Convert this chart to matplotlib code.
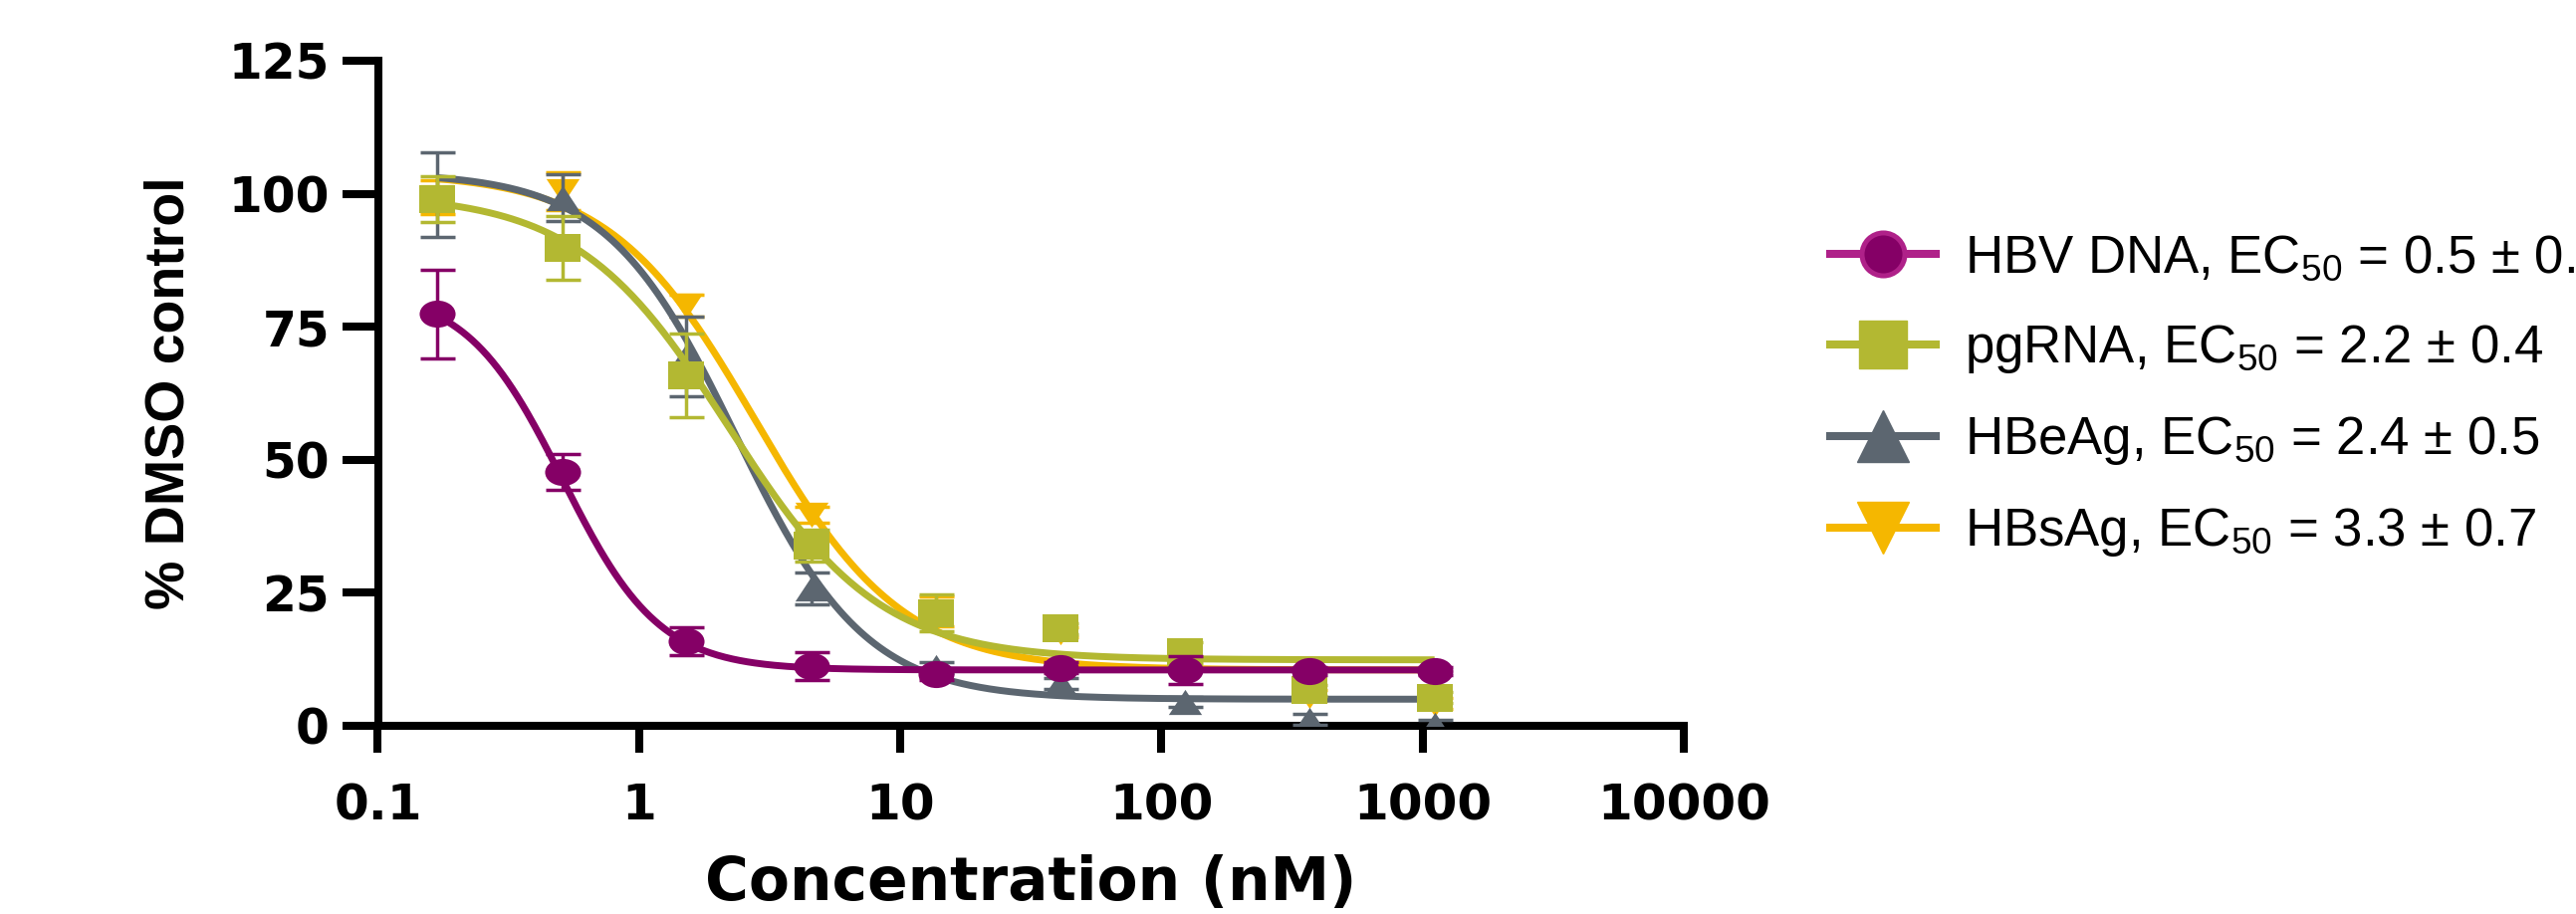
"""Dose-response curves for HBV markers (% of DMSO control vs concentration)."""

import numpy as np
import matplotlib
matplotlib.use("Agg")
from matplotlib import pyplot as plt
from matplotlib import font_manager
from matplotlib.lines import Line2D
from matplotlib.path import Path

# concentrations (nM), 3-fold dilution series
conc = [0.169, 0.508, 1.52, 4.57, 13.7, 41.2, 123, 370, 1111]

dna_mean = [77.4, 47.7, 15.9, 11.3, 9.7, 10.9, 10.5, 10.3, 10.3]
dna_sd = [8.3, 3.3, 2.6, 2.6, 1.0, 1.0, 2.6, 0.8, 0.8]
pgrna_mean = [99.0, 89.9, 65.9, 33.9, 21.2, 18.3, 13.8, 6.7, 5.3]
pgrna_sd = [4.3, 6.0, 7.9, 3.0, 3.5, 1.0, 2.0, 1.0, 1.0]
hbeag_mean = [99.8, 99.2, 69.5, 25.9, 11.0, 8.0, 4.5, 1.2, 0.2]
hbeag_sd = [7.9, 4.4, 7.5, 3.0, 1.0, 1.0, 1.0, 1.0, 1.0]
hbsag_mean = [99.4, 100.5, 79.0, 39.7, 21.5, 17.6, 12.0, 5.7, 4.2]
hbsag_sd = [3.2, 3.5, 2.0, 1.5, 2.8, 1.0, 1.0, 1.0, 1.0]

# four-parameter logistic fits: top, bottom, EC50, hill slope
dna_fit = [82.0, 10.5, 0.51, 2.35]
pgrna_fit = [100.0, 12.4, 2.2, 1.5]
hbeag_fit = [104.0, 5.0, 2.35, 1.75]
hbsag_fit = [104.0, 10.5, 2.8, 1.55]

labels = [
    "HBV DNA, EC$_{50}$ = 0.5 ± 0.1",
    "pgRNA, EC$_{50}$ = 2.2 ± 0.4",
    "HBeAg, EC$_{50}$ = 2.4 ± 0.5",
    "HBsAg, EC$_{50}$ = 3.3 ± 0.7",
]

x_ticks = [0.1, 1, 10, 100, 1000, 10000]
x_ticklabels = ["0.1", "1", "10", "100", "1000", "10000"]
y_ticks = [0, 25, 50, 75, 100, 125]

PURPLE = "#850066"
PURPLE_LIGHT = "#AF2189"
GREEN = "#B3B832"
GRAY = "#5C6670"
YELLOW = "#F5B700"

plt.rcParams["mathtext.fontset"] = "custom"
plt.rcParams["mathtext.rm"] = "Liberation Sans"
plt.rcParams["mathtext.it"] = "Liberation Sans:italic"
plt.rcParams["mathtext.bf"] = "Liberation Sans:bold"


def logistic(x, top, bottom, ec50, hill):
    return bottom + (top - bottom) / (1 + (x / ec50) ** hill)


# markers in the original are a bit wider than tall
circ = Path.unit_circle()
ellipse = Path(circ.vertices * [1.33, 1.0], circ.codes)
rect = Path([(-1.25, -1), (1.25, -1), (1.25, 1), (-1.25, 1), (-1.25, -1)],
            closed=True)
tri_up = Path([(0, 1), (-1.32, -1), (1.32, -1), (0, 1)], closed=True)
tri_down = Path([(0, -1), (-1.32, 1), (1.32, 1), (0, -1)], closed=True)

series = [
    # mean, sd, fit, color, marker, size, zorder
    (hbsag_mean, hbsag_sd, hbsag_fit, YELLOW, tri_down, 24, 2),
    (hbeag_mean, hbeag_sd, hbeag_fit, GRAY, tri_up, 24, 3),
    (pgrna_mean, pgrna_sd, pgrna_fit, GREEN, rect, 26, 4),
    (dna_mean, dna_sd, dna_fit, PURPLE, ellipse, 26, 5),
]

fig = plt.figure(figsize=(25.87, 9.18), dpi=100)
ax = fig.add_axes([379.5 / 2587, 1 - 729 / 918, (1691 - 379.5) / 2587, 668 / 918])

xs = np.logspace(np.log10(conc[0]), np.log10(conc[-1]), 400)
for mean, sd, fit, color, marker, size, z in series:
    ax.plot(xs, logistic(xs, *fit), color=color, lw=5, zorder=z,
            solid_capstyle="butt")
    ax.errorbar(conc, mean, yerr=sd, fmt="none", ecolor=color, elinewidth=2.5,
                capsize=12.6, capthick=2.5, zorder=z)
    ax.plot(conc, mean, ls="none", marker=marker, ms=size, color=color,
            markeredgewidth=0, zorder=z + 0.1)

ax.set_xscale("log")
ax.set_xlim(0.1, 10000)
ax.set_ylim(0, 125)
ax.set_xticks(x_ticks)
ax.set_xticklabels(x_ticklabels)
ax.minorticks_off()
ax.set_yticks(y_ticks)

for side in ["top", "right"]:
    ax.spines[side].set_visible(False)
for side in ["left", "bottom"]:
    ax.spines[side].set_linewidth(5.8)
ax.tick_params(axis="x", length=19.5, width=5.8, pad=21)
ax.tick_params(axis="y", length=26, width=5.8, pad=9)
for lab in ax.get_xticklabels():
    lab.set_fontfamily("DejaVu Sans")
    lab.set_fontweight("bold")
    lab.set_fontsize(36)
for lab in ax.get_yticklabels():
    lab.set_fontfamily("DejaVu Sans")
    lab.set_fontweight("bold")
    lab.set_fontsize(35)

ax.set_xlabel("Concentration (nM)", family="DejaVu Sans", fontweight="bold",
              fontsize=43, labelpad=18)

names = {f.name for f in font_manager.fontManager.ttflist}
if "Liberation Sans Narrow" in names:
    ax.set_ylabel("% DMSO control", family="Liberation Sans Narrow",
                  fontweight="bold", fontsize=47, labelpad=24)
else:
    ax.set_ylabel("% DMSO control", family="Liberation Sans",
                  fontweight="bold", fontsize=40, labelpad=24)

# legend (handles drawn with normal round markers, as in the original)
handles = [
    Line2D([], [], color=PURPLE_LIGHT, lw=5.8, marker="o", ms=31,
           markerfacecolor=PURPLE, markeredgecolor=PURPLE_LIGHT, mew=3.6),
    Line2D([], [], color=GREEN, lw=5.8, marker="s", ms=34),
    Line2D([], [], color=GRAY, lw=5.8, marker="^", ms=37),
    Line2D([], [], color=YELLOW, lw=5.8, marker="v", ms=37),
]
fig.legend(handles, labels, loc="center left",
           bbox_to_anchor=(1838 / 2587, 1 - 398 / 918),
           frameon=False, borderpad=0, borderaxespad=0,
           handlelength=2.0, handletextpad=0.56, labelspacing=0.74,
           prop={"family": "Liberation Sans", "size": 38})

fig.savefig("out.png", dpi=100)
